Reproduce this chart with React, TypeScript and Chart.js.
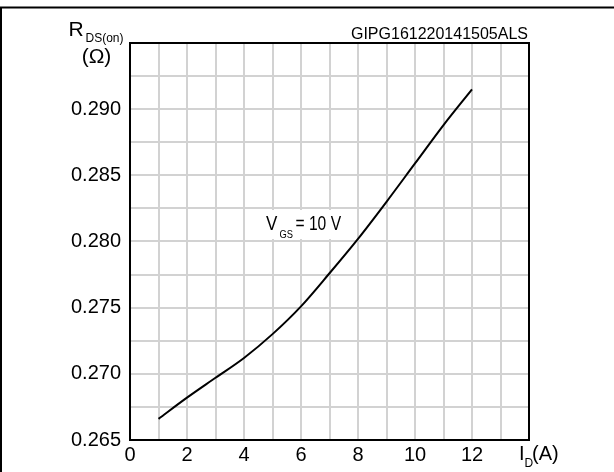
import React, { useEffect, useRef } from "react";
import { Chart, registerables } from "chart.js";

Chart.register(...registerables);

const idValues = [1, 2, 3, 4, 5, 6, 7, 8, 9, 10, 11, 12];
const rdsValues = [0.2666, 0.2682, 0.2697, 0.2712, 0.273, 0.2751, 0.2776, 0.2802, 0.283, 0.2859, 0.2888, 0.2915];

const xTickValues = [0, 1, 2, 3, 4, 5, 6, 7, 8, 9, 10, 11, 12, 13, 14];
const xLabelValues = [0, 2, 4, 6, 8, 10, 12];
const yTickValues = [0.265, 0.2675, 0.27, 0.2725, 0.275, 0.2775, 0.28, 0.2825, 0.285, 0.2875, 0.29, 0.2925, 0.295];
const yLabelValues = [0.265, 0.27, 0.275, 0.28, 0.285, 0.29];

const FONT = "'Liberation Sans', Arial, sans-serif";

const decorPlugin = {
  id: "decor",
  beforeDraw(chart: any) {
    const ctx = chart.ctx;
    ctx.save();
    ctx.fillStyle = "#ffffff";
    ctx.fillRect(0, 0, chart.width, chart.height);
    ctx.restore();
  },
  afterDraw(chart: any) {
    const ctx = chart.ctx;
    const a = chart.chartArea;
    ctx.save();
    // outer frame
    ctx.strokeStyle = "#000";
    ctx.lineWidth = 2;
    ctx.beginPath();
    ctx.moveTo(0, 7.5);
    ctx.lineTo(chart.width, 7.5);
    ctx.moveTo(1, 7.5);
    ctx.lineTo(1, chart.height);
    ctx.stroke();
    // plot frame
    ctx.strokeRect(a.left, a.top, a.right - a.left, a.bottom - a.top);

    ctx.fillStyle = "#000";
    ctx.textBaseline = "alphabetic";
    ctx.textAlign = "left";
    // code label
    ctx.font = `16px ${FONT}`;
    ctx.textAlign = "right";
    ctx.fillText("GIPG161220141505ALS", a.right - 1, 38.5);
    ctx.textAlign = "left";
    // y title
    ctx.font = `21px ${FONT}`;
    ctx.fillText("R", 68.5, 35.5);
    ctx.font = `12px ${FONT}`;
    ctx.fillText("DS(on)", 85.5, 42);
    ctx.font = `21px ${FONT}`;
    ctx.textAlign = "center";
    ctx.fillText("(\u03A9)", 96.5, 63);
    ctx.textAlign = "left";
    // x title
    ctx.font = `20px ${FONT}`;
    ctx.fillText("I", 519, 460);
    ctx.font = `12px ${FONT}`;
    ctx.fillText("D", 524.5, 467);
    ctx.font = `20px ${FONT}`;
    ctx.fillText("(A)", 532, 460);
    // V_GS label
    ctx.fillStyle = "#fff";
    ctx.fillRect(262, 210, 84, 29);
    ctx.fillStyle = "#000";
    ctx.save();
    ctx.translate(266, 229.5);
    ctx.scale(0.85, 1);
    ctx.font = `20px ${FONT}`;
    ctx.fillText("V", 0, 0);
    ctx.restore();
    ctx.save();
    ctx.translate(279.5, 237.5);
    ctx.scale(0.85, 1);
    ctx.font = `11px ${FONT}`;
    ctx.fillText("GS", 0, 0);
    ctx.restore();
    ctx.save();
    ctx.translate(295.5, 229.5);
    ctx.scale(0.78, 1);
    ctx.font = `20px ${FONT}`;
    ctx.fillText("= 10 V", 0, 0);
    ctx.restore();
    ctx.restore();
  },
};

function near(v: number, arr: number[]) {
  return arr.some((a) => Math.abs(a - v) < 1e-7);
}

export default function App() {
  const canvasRef = useRef<HTMLCanvasElement | null>(null);

  useEffect(() => {
    if (!canvasRef.current) return;
    const chart = new Chart(canvasRef.current, {
      type: "line",
      data: {
        datasets: [
          {
            data: idValues.map((x, i) => ({ x, y: rdsValues[i] })),
            borderColor: "#000",
            borderWidth: 2,
            pointRadius: 0,
            fill: false,
            cubicInterpolationMode: "monotone",
          },
        ],
      },
      options: {
        responsive: false,
        animation: false,
        events: [],
        layout: { padding: { top: 43, right: 85, left: 0, bottom: 0 } },
        plugins: {
          legend: { display: false },
          tooltip: { enabled: false },
          title: { display: false },
        },
        scales: {
          x: {
            type: "linear",
            min: 0,
            max: 14,
            afterFit: (s: any) => {
              s.height = 32;
            },
            afterBuildTicks: (s: any) => {
              s.ticks = xTickValues.map((v) => ({ value: v }));
            },
            grid: { color: "#d2d2d2", lineWidth: 2, drawTicks: false },
            border: { display: false },
            ticks: {
              autoSkip: false,
              maxRotation: 0,
              padding: 3,
              color: "#000",
              font: { family: FONT, size: 20 },
              callback: (v: any) => (near(Number(v), xLabelValues) ? String(v) : ""),
            },
          },
          y: {
            type: "linear",
            min: 0.265,
            max: 0.295,
            afterFit: (s: any) => {
              s.width = 130;
            },
            afterBuildTicks: (s: any) => {
              s.ticks = yTickValues.map((v) => ({ value: v }));
            },
            grid: { color: "#d2d2d2", lineWidth: 2, drawTicks: false },
            border: { display: false },
            ticks: {
              autoSkip: false,
              padding: 9,
              color: "#000",
              font: { family: FONT, size: 20 },
              callback: (v: any) => (near(Number(v), yLabelValues) ? Number(v).toFixed(3) : ""),
            },
          },
        },
      },
      plugins: [decorPlugin],
    } as any);
    return () => chart.destroy();
  }, []);

  return (
    <div style={{ position: "absolute", left: 0, top: 0, width: 614, height: 472 }}>
      <canvas ref={canvasRef} width={614} height={472} style={{ display: "block" }} />
    </div>
  );
}
